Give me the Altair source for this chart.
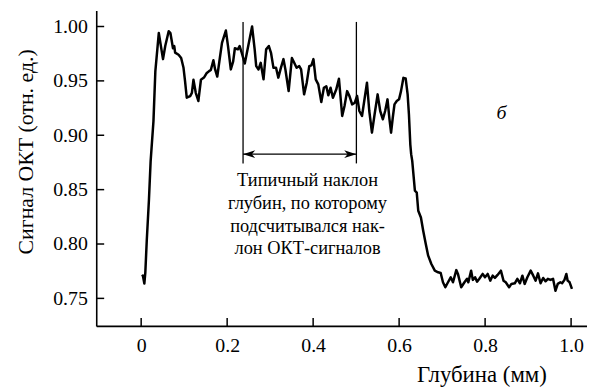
import altair as alt
import pandas as pd

# OCT signal trace (depth in mm, signal in rel. units)
depth = [0.002, 0.004, 0.0074, 0.0097, 0.013, 0.018, 0.022, 0.0286, 0.033, 0.041,
         0.0508, 0.056, 0.064, 0.068, 0.074, 0.077, 0.079, 0.087, 0.093, 0.0985,
         0.102, 0.106, 0.114, 0.118, 0.1216, 0.127, 0.133, 0.139, 0.146, 0.152,
         0.158, 0.162, 0.168, 0.172, 0.177, 0.183, 0.188, 0.197, 0.202, 0.2085,
         0.214, 0.218, 0.225, 0.229, 0.233, 0.241, 0.248, 0.258, 0.264, 0.2676,
         0.273, 0.278, 0.2846, 0.2907, 0.297, 0.302, 0.3077, 0.3137, 0.319, 0.325,
         0.331, 0.3355, 0.343, 0.3506, 0.356, 0.3615, 0.3677, 0.372, 0.379, 0.385,
         0.391, 0.396, 0.4007, 0.406, 0.412, 0.419, 0.425, 0.4307, 0.4353, 0.4406,
         0.446, 0.4537, 0.46, 0.4676, 0.473, 0.479, 0.4845, 0.4907, 0.4969, 0.5022,
         0.5075, 0.5137, 0.5252, 0.5306, 0.5368, 0.543, 0.550, 0.556, 0.5622, 0.5675,
         0.573, 0.5776, 0.5813, 0.5852, 0.5892, 0.5945, 0.5998, 0.6044, 0.610, 0.6152,
         0.6198, 0.6228, 0.626, 0.628, 0.6305, 0.6367, 0.641, 0.6445, 0.6507, 0.656,
         0.662, 0.6676, 0.675, 0.683, 0.6907, 0.6967, 0.702, 0.7075, 0.7137, 0.720,
         0.7253, 0.733, 0.7368, 0.7444, 0.752, 0.758, 0.761, 0.7675, 0.7714, 0.7767,
         0.7813, 0.7866, 0.7944, 0.7997, 0.806, 0.812, 0.8175, 0.8228, 0.829, 0.8367,
         0.8428, 0.848, 0.8558, 0.8612, 0.869, 0.875, 0.881, 0.8867, 0.892, 0.8983,
         0.906, 0.912, 0.9175, 0.923, 0.929, 0.935, 0.9405, 0.946, 0.952, 0.958,
         0.9636, 0.969, 0.975, 0.979, 0.9846, 0.989, 0.992, 0.9966, 1.002]
signal = [0.770, 0.771, 0.7636, 0.774, 0.803, 0.840, 0.876, 0.913, 0.959, 0.994,
          0.970, 0.982, 0.9957, 0.994, 0.980, 0.982, 0.976, 0.974, 0.971, 0.962,
          0.950, 0.9345, 0.936, 0.939, 0.951, 0.939, 0.9315, 0.951, 0.953, 0.957,
          0.959, 0.960, 0.969, 0.9605, 0.954, 0.971, 0.985, 0.9963, 0.982, 0.9605,
          0.968, 0.980, 0.979, 0.982, 0.977, 0.966, 0.980, 1.000, 0.979, 0.9636,
          0.9605, 0.9666, 0.9514, 0.979, 0.982, 0.9758, 0.962, 0.962, 0.953, 0.962,
          0.970, 0.9605, 0.9406, 0.971, 0.9666, 0.962, 0.9636, 0.9605, 0.9376, 0.948,
          0.9636, 0.9642, 0.970, 0.9514, 0.9468, 0.9305, 0.9437, 0.945, 0.9367, 0.9437,
          0.9345, 0.942, 0.952, 0.9177, 0.9269, 0.9406, 0.936, 0.9284, 0.9299, 0.9361,
          0.9223, 0.9177, 0.9483, 0.9223, 0.9024, 0.9193, 0.9376, 0.9223, 0.9147, 0.9223,
          0.933, 0.9147, 0.9024, 0.9161, 0.9284, 0.9315, 0.933, 0.9406, 0.9528, 0.9523,
          0.9376, 0.9193, 0.8917, 0.8826, 0.8764, 0.849, 0.8473, 0.8306, 0.8244, 0.8122,
          0.800, 0.7893, 0.7816, 0.7755, 0.774, 0.7734, 0.7648, 0.7602, 0.7648, 0.7694,
          0.7648, 0.776, 0.7725, 0.7602, 0.7648, 0.768, 0.7648, 0.7755, 0.767, 0.7694,
          0.7654, 0.768, 0.7725, 0.7694, 0.7725, 0.7663, 0.7709, 0.7688, 0.7716, 0.7755,
          0.7663, 0.7648, 0.7602, 0.7633, 0.7639, 0.768, 0.7639, 0.7709, 0.7633, 0.7694,
          0.7755, 0.7709, 0.7663, 0.773, 0.7639, 0.7688, 0.7657, 0.768, 0.767, 0.768,
          0.757, 0.7633, 0.7648, 0.7639, 0.767, 0.7725, 0.7663, 0.7648, 0.7587]

x_ticks = [0.0, 0.2, 0.4, 0.6, 0.8, 1.0]
y_ticks = [0.75, 0.80, 0.85, 0.90, 0.95, 1.00]

# annotation: bracket showing the typical depth range
bracket_x = [0.237, 0.5006]
bracket_top = 1.0042
bracket_bottom = 0.8741
arrow_y = 0.8826
note_lines = ["Типичный наклон", "глубин, по которому", "подсчитывался нак-", "лон ОКТ-сигналов"]
note_y = [0.8589, 0.8378, 0.8164, 0.7959]
note_x = 0.387
panel_label = "б"
panel_x = 0.838
panel_y = 0.920

W, H = 495, 318
x_dom = [-0.1045, 1.037]
y_dom = [0.7247, 1.0146]
FONT = "Liberation Serif"

xs = alt.Scale(domain=x_dom, nice=False, zero=False)
ys = alt.Scale(domain=y_dom, nice=False, zero=False)

x_axis = alt.Axis(values=x_ticks, ticks=False, grid=False,
                  labelExpr="datum.value == 0 ? '0' : format(datum.value, '.1f')",
                  labelPadding=26, labelBaseline="alphabetic",
                  labelFont=FONT, labelFontSize=20, labelColor="black",
                  domainColor="black", domainWidth=1.6,
                  title="Глубина (мм)", titleAlign="right", titleX=454, titleY=56,
                  titleBaseline="alphabetic", titleAnchor="end",
                  titleFont=FONT, titleFontSize=23, titleFontWeight="normal", titleColor="black")
y_axis = alt.Axis(values=y_ticks, ticks=False, grid=False, format=".2f",
                  labelPadding=9,
                  labelFont=FONT, labelFontSize=20, labelColor="black",
                  domainColor="black", domainWidth=1.6,
                  title="Сигнал ОКТ (отн. ед.)", titleX=-64, titleY=142,
                  titleBaseline="alphabetic", titleAlign="center",
                  titleFont=FONT, titleFontSize=22, titleFontWeight="normal", titleColor="black")

df = pd.DataFrame({"depth": depth, "signal": signal})

line = alt.Chart(df).mark_line(color="black", strokeWidth=2.5, strokeJoin="round").encode(
    x=alt.X("depth:Q", scale=xs, axis=x_axis),
    y=alt.Y("signal:Q", scale=ys, axis=y_axis),
    order=alt.Order("depth:Q"),
)

yt = alt.Chart(pd.DataFrame({"v": y_ticks})).mark_rule(color="black", strokeWidth=1.5).encode(
    y=alt.Y("v:Q", scale=ys), x=alt.value(0), x2=alt.value(8))
xt = alt.Chart(pd.DataFrame({"v": x_ticks})).mark_rule(color="black", strokeWidth=1.5).encode(
    x=alt.X("v:Q", scale=xs), y=alt.value(H), y2=alt.value(H - 8))

vlines = alt.Chart(pd.DataFrame({"x": bracket_x, "top": [bracket_top] * 2,
                                 "bot": [bracket_bottom] * 2})).mark_rule(
    color="black", strokeWidth=1.3).encode(
    x=alt.X("x:Q", scale=xs), y=alt.Y("top:Q", scale=ys), y2="bot:Q")

hline = alt.Chart(pd.DataFrame({"x": [bracket_x[0]], "x2": [bracket_x[1]], "y": [arrow_y]})).mark_rule(
    color="black", strokeWidth=1.3).encode(
    x=alt.X("x:Q", scale=xs), x2="x2:Q", y=alt.Y("y:Q", scale=ys))

head_l = alt.Chart(pd.DataFrame({"x": [bracket_x[0]], "y": [arrow_y]})).mark_point(
    shape="M0,0L2,-0.65L1.45,0L2,0.65Z", size=150, filled=True, color="black", opacity=1).encode(
    x=alt.X("x:Q", scale=xs), y=alt.Y("y:Q", scale=ys))
head_r = alt.Chart(pd.DataFrame({"x": [bracket_x[1]], "y": [arrow_y]})).mark_point(
    shape="M0,0L-2,-0.65L-1.45,0L-2,0.65Z", size=150, filled=True, color="black", opacity=1).encode(
    x=alt.X("x:Q", scale=xs), y=alt.Y("y:Q", scale=ys))

note = alt.Chart(pd.DataFrame({"t": note_lines, "y": note_y, "x": [note_x] * 4})).mark_text(
    font=FONT, fontSize=18.5, color="black", align="center", baseline="middle").encode(
    x=alt.X("x:Q", scale=xs), y=alt.Y("y:Q", scale=ys), text="t:N")

plabel = alt.Chart(pd.DataFrame({"t": [panel_label], "x": [panel_x], "y": [panel_y]})).mark_text(
    font=FONT, fontSize=20, fontStyle="italic", color="black", align="center", baseline="middle").encode(
    x=alt.X("x:Q", scale=xs), y=alt.Y("y:Q", scale=ys), text="t:N")

chart = alt.layer(line, yt, xt, vlines, hline, head_l, head_r, note, plabel).properties(
    width=W, height=H,
    background="white",
    autosize=alt.AutoSizeParams(type="none"),
    padding={"left": 89, "top": 1, "right": 0, "bottom": 62},
).configure_view(stroke=None)

chart.save("out.html", embed_options={"renderer": "svg", "actions": False})
